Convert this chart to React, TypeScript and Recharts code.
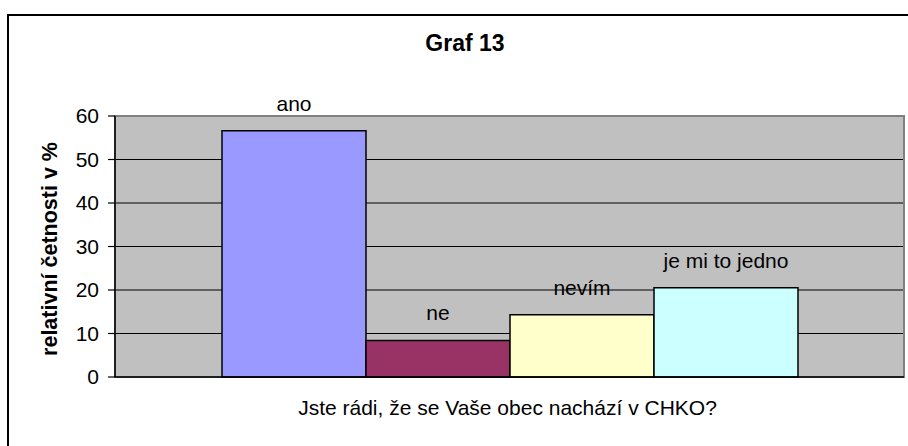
import { BarChart, Bar, XAxis, YAxis, CartesianGrid, ReferenceArea, LabelList } from 'recharts';

const FONT = '"Liberation Sans", Arial, sans-serif';

const categories = ['Graf 13'];
const answerKeys = ['ano', 'ne', 'nevim', 'jedno'];
const answerLabels = ['ano', 'ne', 'nevím', 'je mi to jedno'];
const answerValues = [56.6, 8.4, 14.3, 20.5];
const answerColors = ['#9999FF', '#993366', '#FFFFCC', '#CCFFFF'];
const yTicks = [0, 10, 20, 30, 40, 50, 60];
const gridValues = [10, 20, 30, 40, 50];

const data = categories.map((name) => {
  const row: Record<string, string | number> = { name };
  answerKeys.forEach((key, i) => {
    row[key] = answerValues[i];
  });
  return row;
});

interface BarLabelProps {
  x?: number;
  y?: number;
  width?: number;
}

function makeBarLabel(text: string) {
  return function BarLabel({ x = 0, y = 0, width = 0 }: BarLabelProps) {
    return (
      <text
        x={Number(x) + Number(width) / 2}
        y={Number(y) - 20}
        textAnchor="middle"
        fontSize={21}
        fontFamily={FONT}
        fill="#000"
      >
        {text}
      </text>
    );
  };
}

export default function App() {
  return (
    <div
      style={{
        position: 'absolute',
        left: 0,
        top: 0,
        width: 908,
        height: 446,
        overflow: 'hidden',
        background: '#fff',
        fontFamily: FONT,
      }}
    >
      <div
        style={{
          position: 'absolute',
          left: 7,
          top: 14,
          width: 1000,
          height: 1000,
          border: '2px solid #000',
        }}
      />
      <div style={{ position: 'absolute', left: 0, top: 0 }}>
        <BarChart
          width={908}
          height={446}
          data={data}
          margin={{ top: 116, right: 4, left: 55, bottom: 39 }}
          barGap={0}
          barCategoryGap={107}
        >
          <CartesianGrid
            vertical={false}
            horizontalValues={gridValues}
            stroke="#000"
            strokeWidth={1.2}
            fill="#C0C0C0"
            fillOpacity={1}
          />
          <ReferenceArea y1={0} y2={60} fill="none" stroke="#808080" strokeWidth={2} />
          <XAxis
            dataKey="name"
            height={30}
            tick={false}
            tickLine={false}
            axisLine={{ stroke: '#000', strokeWidth: 1.5 }}
          />
          <YAxis
            width={60}
            domain={[0, 60]}
            ticks={yTicks}
            interval={0}
            tickSize={7}
            tickMargin={9}
            axisLine={{ stroke: '#000', strokeWidth: 1.5 }}
            tickLine={{ stroke: '#000', strokeWidth: 1.2 }}
            tick={{ fontSize: 21, fill: '#000', fontFamily: FONT }}
          />
          {answerKeys.map((key, i) => (
            <Bar
              key={key}
              dataKey={key}
              fill={answerColors[i]}
              stroke="#000"
              strokeWidth={1.5}
              isAnimationActive={false}
            >
              <LabelList dataKey={key} content={makeBarLabel(answerLabels[i])} />
            </Bar>
          ))}
        </BarChart>
      </div>
      <svg
        width={908}
        height={446}
        style={{ position: 'absolute', left: 0, top: 0, pointerEvents: 'none' }}
      >
        <text x={465} y={50.5} textAnchor="middle" fontSize={23} fontWeight="bold" fontFamily={FONT}>
          Graf 13
        </text>
        <text
          transform="translate(57,249) rotate(-90)"
          textAnchor="middle"
          fontSize={21.5}
          fontWeight="bold"
          fontFamily={FONT}
        >
          relativní četnosti v %
        </text>
        <text x={507.5} y={415} textAnchor="middle" fontSize={21} fontFamily={FONT}>
          Jste rádi, že se Vaše obec nachází v CHKO?
        </text>
      </svg>
    </div>
  );
}
